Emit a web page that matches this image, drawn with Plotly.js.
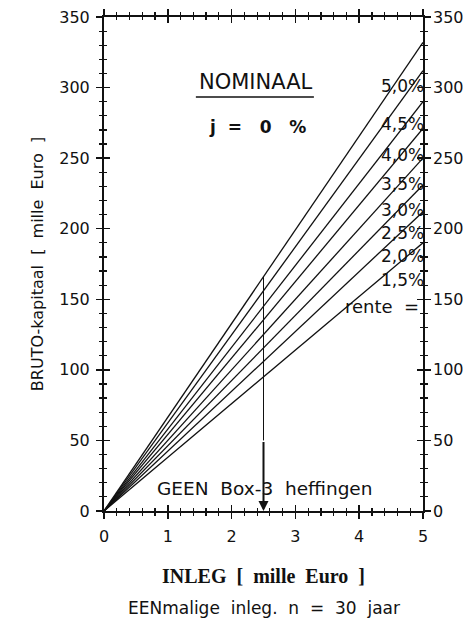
<!DOCTYPE html>
<html>
<head>
<meta charset="utf-8">
<script src="https://cdn.plot.ly/plotly-3.0.1.min.js"></script>
<style>
html,body{margin:0;padding:0;background:#fff;}
#chart{width:475px;height:620px;}
</style>
</head>
<body>
<div id="chart"></div>
<script>
// ---- data ----
const rateLabels = ['1,5%', '2,0%', '2,5%', '3,0%', '3,5%', '4,0%', '4,5%', '5,0%'];
const inlegX = [0, 5];                       // inleg (mille Euro)
const kapitaalStart = [0, 0, 0, 0, 0, 0, 0, 0];
const kapitaalEnd = [190, 212, 231, 250, 271, 290, 312, 332]; // bruto-kapitaal at inleg = 5
const markInleg = 2.5;                       // vertical marker at inleg 2.5
const xTickVals = [0, 1, 2, 3, 4, 5];
const yTickVals = [0, 50, 100, 150, 200, 250, 300, 350];

// ---- layout helpers ----
const FONT = 'DejaVu Sans, Liberation Sans, sans-serif';
const traces = [];
rateLabels.forEach((r, i) => {
  traces.push({
    type: 'scatter', mode: 'lines', name: r,
    x: inlegX, y: [kapitaalStart[i], kapitaalEnd[i]],
    line: {color: '#111', width: 1.3},
    hoverinfo: 'skip', showlegend: false
  });
});
// upper thin part of the marker line: from top rate line down to 50
const topIdx = kapitaalEnd.length - 1;
const markTop = kapitaalStart[topIdx] + (kapitaalEnd[topIdx] - kapitaalStart[topIdx]) * (markInleg - inlegX[0]) / (inlegX[1] - inlegX[0]);
traces.push({
  type: 'scatter', mode: 'lines', x: [markInleg, markInleg], y: [markTop, 50],
  line: {color: '#111', width: 1}, hoverinfo: 'skip', showlegend: false
});
// dummy trace to activate overlay axes
traces.push({type: 'scatter', mode: 'markers', x: [null], y: [null], xaxis: 'x2', yaxis: 'y2',
  showlegend: false, hoverinfo: 'skip'});

// rate label placements (layout positions)
const labelValues = [164, 180.5, 197, 213.5, 232, 252.5, 274, 301];
const annotations = rateLabels.map((r, i) => ({
  x: 5, y: labelValues[i], xref: 'x', yref: 'y', text: r, showarrow: false,
  xanchor: 'right', yanchor: 'middle', xshift: 3,
  font: {family: FONT, size: 17, color: '#111'}
}));
annotations.push({x: 5, y: 145, xref: 'x', yref: 'y', text: 'rente\u00a0 =', showarrow: false,
  xanchor: 'right', yanchor: 'middle', xshift: -2, font: {family: FONT, size: 18, color: '#111'}});
annotations.push({x: 2.39, y: 304, xref: 'x', yref: 'y', text: 'NOMINAAL', showarrow: false,
  font: {family: FONT, size: 21, color: '#111'}});
annotations.push({x: 2.4, y: 272, xref: 'x', yref: 'y', text: '<b>j\u00a0\u00a0=\u00a0\u00a0\u00a00\u00a0\u00a0\u00a0%</b>', showarrow: false,
  font: {family: FONT, size: 17, color: '#111'}});
annotations.push({x: 2.51, y: 15.6, xref: 'x', yref: 'y', text: 'GEEN\u00a0 Box-3\u00a0 heffingen', showarrow: false,
  font: {family: FONT, size: 18.5, color: '#111'}});
// lower thick part of marker with arrow head
annotations.push({x: markInleg, y: 0, ax: markInleg, ay: 50, xref: 'x', yref: 'y', axref: 'x', ayref: 'y',
  text: '', showarrow: true, arrowhead: 2, arrowsize: 1, arrowwidth: 2, arrowcolor: '#111'});
annotations.push({x: 0.5, y: 0, xref: 'paper', yref: 'paper', yshift: -97, xanchor: 'center', yanchor: 'middle',
  text: 'EENmalige\u00a0 inleg.\u00a0 n\u00a0 =\u00a0 30\u00a0 jaar', showarrow: false,
  font: {family: FONT, size: 17, color: '#111'}});

const shapes = [{type: 'line', xref: 'paper', yref: 'paper', x0: 0.288, x1: 0.658, y0: 0.838, y1: 0.838,
  line: {color: '#111', width: 1.5}}];

const baseX = {
  range: [0, 5], tickvals: xTickVals, showgrid: false, zeroline: false,
  tickcolor: '#111', tickwidth: 1.5, ticklen: 6
};
const baseY = {
  range: [0, 350], tickvals: yTickVals, showgrid: false, zeroline: false,
  tickcolor: '#111', tickwidth: 1.5, ticklen: 6
};

const layout = {
  width: 475, height: 620,
  margin: {l: 104, r: 52, t: 17, b: 109},
  paper_bgcolor: '#fff', plot_bgcolor: '#fff',
  showlegend: false,
  font: {family: FONT, color: '#111'},
  xaxis: Object.assign({}, baseX, {
    ticks: 'outside', mirror: 'allticks', showline: true, linecolor: '#111', linewidth: 2,
    minor: {dtick: 0.2, ticks: 'outside', ticklen: 3, tickcolor: '#111', tickwidth: 1.2},
    tickfont: {family: FONT, size: 16, color: '#111'}, ticklabelstandoff: 4,
    title: {text: '<b>INLEG\u00a0 [\u00a0 mille\u00a0 Euro\u00a0 ]</b>', standoff: 24,
      font: {family: 'Liberation Serif, serif', size: 20, color: '#111'}}
  }),
  xaxis2: Object.assign({}, baseX, {
    overlaying: 'x', anchor: 'y2', side: 'bottom', ticks: 'inside', mirror: 'allticks', showline: false,
    showticklabels: false,
    minor: {dtick: 0.2, ticks: 'inside', ticklen: 3, tickcolor: '#111', tickwidth: 1.2}
  }),
  yaxis: Object.assign({}, baseY, {
    ticks: 'outside', mirror: 'allticks', showline: true, linecolor: '#111', linewidth: 2,
    minor: {dtick: 10, ticks: 'outside', ticklen: 3, tickcolor: '#111', tickwidth: 1.2},
    tickfont: {family: FONT, size: 16, color: '#111'}, ticklabelstandoff: 3,
    title: {text: 'BRUTO-kapitaal\u00a0 [\u00a0 mille\u00a0 Euro\u00a0 ]', standoff: 12,
      font: {family: FONT, size: 16, color: '#111'}}
  }),
  yaxis2: Object.assign({}, baseY, {
    overlaying: 'y', anchor: 'x2', side: 'right', ticks: 'inside', mirror: 'allticks', showline: false,
    minor: {dtick: 10, ticks: 'inside', ticklen: 3, tickcolor: '#111', tickwidth: 1.2},
    tickfont: {family: FONT, size: 16, color: '#111'}, ticklabelstandoff: 9
  }),
  annotations: annotations,
  shapes: shapes
};

Plotly.newPlot('chart', traces, layout, {staticPlot: true, displayModeBar: false});
</script>
</body>
</html>
